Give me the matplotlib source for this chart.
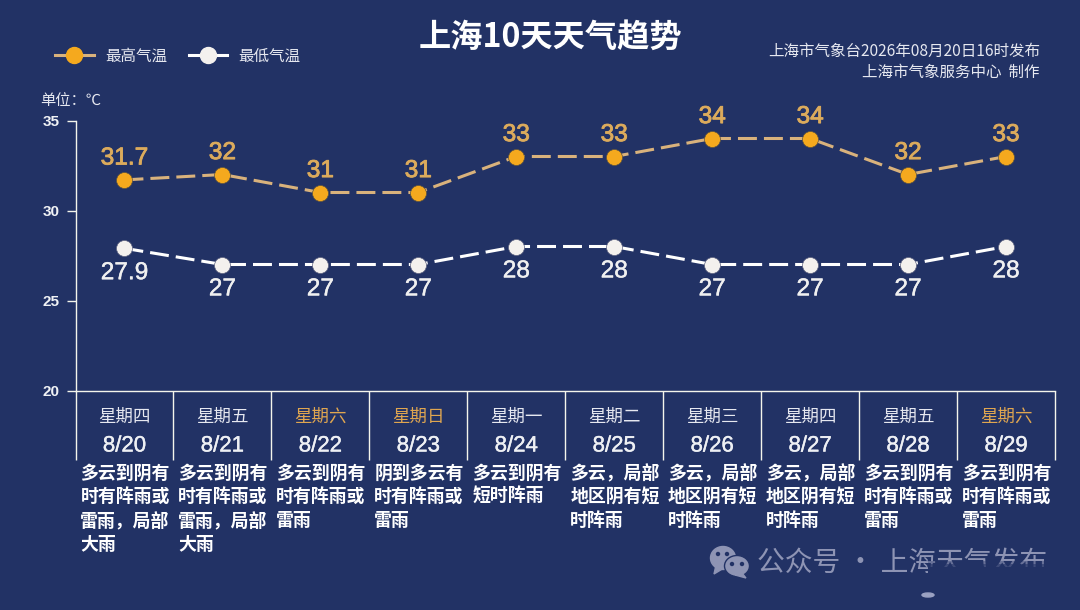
import matplotlib
matplotlib.use('Agg')
import matplotlib.pyplot as plt
import matplotlib.patheffects as pe
from matplotlib.lines import Line2D
from matplotlib.patches import Ellipse, Polygon, Rectangle

plt.rcParams['font.family'] = ['Noto Sans CJK SC', 'DejaVu Sans']

# data
weekdays = ['星期四', '星期五', '星期六', '星期日', '星期一', '星期二', '星期三', '星期四', '星期五', '星期六']
dates = ['8/20', '8/21', '8/22', '8/23', '8/24', '8/25', '8/26', '8/27', '8/28', '8/29']
high_temp = [31.7, 32, 31, 31, 33, 33, 34, 34, 32, 33]
low_temp = [27.9, 27, 27, 27, 28, 28, 27, 27, 27, 28]
high_labels = ['31.7', '32', '31', '31', '33', '33', '34', '34', '32', '33']
low_labels = ['27.9', '27', '27', '27', '28', '28', '27', '27', '27', '28']
weather = [
    '多云到阴有时有阵雨或雷雨，局部大雨',
    '多云到阴有时有阵雨或雷雨，局部大雨',
    '多云到阴有时有阵雨或雷雨',
    '阴到多云有时有阵雨或雷雨',
    '多云到阴有短时阵雨',
    '多云，局部地区阴有短时阵雨',
    '多云，局部地区阴有短时阵雨',
    '多云，局部地区阴有短时阵雨',
    '多云到阴有时有阵雨或雷雨',
    '多云到阴有时有阵雨或雷雨',
]
y_ticks = [20, 25, 30, 35]

BG = '#223265'
ORANGE = '#f5a91e'
TAN = '#d9b27c'
LABEL_ORANGE = '#dcab5c'
WEEKEND = '#e0a650'
WHITE = '#f4f1ee'
W, H = 1080, 610


def fx(px):
    return px / W


def fy(py):
    return 1 - py / H


fig = plt.figure(figsize=(W / 100, H / 100), dpi=100, facecolor=BG)
ax = fig.add_axes([fx(75.5), fy(390.5), (1055 - 75.5) / W, 270 / H], facecolor=BG)

xs = [i + 0.5 for i in range(len(dates))]
ax.plot(xs, high_temp, color=TAN, lw=2.2, dashes=(6.2, 2.3), dash_capstyle='butt', zorder=2)
ax.plot(xs, high_temp, ls='none', marker='o', ms=11.5, mfc=ORANGE, mec='#5d5340', mew=0.5, zorder=3)
ax.plot(xs, low_temp, color='white', lw=2.2, dashes=(6.2, 2.3), dash_capstyle='butt', zorder=2)
ax.plot(xs, low_temp, ls='none', marker='o', ms=11.5, mfc=WHITE, mec='#5d6280', mew=0.5, zorder=3)

ax.set_xlim(0, 10)
ax.set_ylim(20, 35)
ax.set_yticks(y_ticks)
ax.set_xticks(range(11))
ax.set_xticklabels([])
ax.tick_params(axis='x', length=49.7, width=1, color='#f4f5ec', direction='out')
ax.tick_params(axis='y', length=6.5, width=1, color='#f4f5ec', pad=5)
for lab in ax.get_yticklabels():
    lab.set_fontfamily(['Liberation Sans', 'DejaVu Sans'])
    lab.set_fontweight('bold')
    lab.set_fontsize(11)
    lab.set_color('#f0f2f5')
for side in ['top', 'right']:
    ax.spines[side].set_visible(False)
for side in ['left', 'bottom']:
    ax.spines[side].set_color('#f4f5ec')
    ax.spines[side].set_linewidth(1)

# value labels, regular weight with a thin stroke
num_font = ['Liberation Sans', 'DejaVu Sans']
for x, v, s in zip(xs, high_temp, high_labels):
    ax.annotate(s, (x, v), xytext=(0, 7.5), textcoords='offset points', ha='center', va='bottom',
                color=LABEL_ORANGE, fontsize=17.6, family=num_font,
                path_effects=[pe.withStroke(linewidth=0.6, foreground=LABEL_ORANGE)])
for x, v, s in zip(xs, low_temp, low_labels):
    ax.annotate(s, (x, v), xytext=(0, -10), textcoords='offset points', ha='center', va='top',
                color='#f0f0f0', fontsize=17.6, family=num_font,
                path_effects=[pe.withStroke(linewidth=0.3, foreground='#f0f0f0')])

# table under the axis
trans = ax.get_xaxis_transform()
for i, x in enumerate(xs):
    c = WEEKEND if weekdays[i] in ('星期六', '星期日') else '#e6e8f0'
    ax.text(x, -26 / 270, weekdays[i], transform=trans, ha='center', va='center', color=c, fontsize=12.6)
    ax.text(x, -55.5 / 270, dates[i], transform=trans, ha='center', va='center', color='#eef0f4',
            fontsize=16, family=num_font, path_effects=[pe.withStroke(linewidth=0.3, foreground='#eef0f4')])
    lines = [weather[i][k:k + 5] for k in range(0, len(weather[i]), 5)]
    for j, line in enumerate(lines):
        ax.text(i + 0.05, -(83 + j * 23.7) / 270, line, transform=trans, ha='left', va='center',
                color='white', fontsize=12.9, fontweight='bold')

# header
fig.text(fx(550), fy(37), '上海10天天气趋势', ha='center', va='center', color='white', fontsize=23.2, fontweight='bold')
fig.text(fx(1040), fy(51), '上海市气象台2026年08月20日16时发布', ha='right', va='center', color='#e6e8f0', fontsize=11.2)
fig.text(fx(1040), fy(72), '上海市气象服务中心  制作', ha='right', va='center', color='#e6e8f0', fontsize=11.2)
fig.text(fx(40), fy(101), '单位：℃', ha='left', va='center', color='#e6e8f0', fontsize=11)

handles = [
    Line2D([], [], color=TAN, lw=2.2, marker='o', ms=11.5, mfc=ORANGE, mec=ORANGE),
    Line2D([], [], color='white', lw=2.2, marker='o', ms=11.5, mfc=WHITE, mec=WHITE),
]
fig.legend(handles, ['最高气温', '最低气温'], ncol=2, frameon=False, loc='center left',
           bbox_to_anchor=(fx(55), fy(56)), borderpad=0, borderaxespad=0, handlelength=2.5,
           handletextpad=0.7, columnspacing=1.4, fontsize=11.2, labelcolor='#e6e8f0')

# watermark, its lower right part is smudged in the reference
MARK = '#8e94b4'
fig.text(fx(757), fy(563), '公众号 · 上海天气发布', ha='left', va='center', color=MARK, fontsize=20)
for top, alpha in [(561, 0.35), (564, 0.6), (567, 1)]:
    fig.patches.append(Rectangle((fx(928), fy(600)), 135 / W, (600 - top) / H, transform=fig.transFigure,
                                 facecolor=BG, edgecolor='none', alpha=alpha, zorder=5))
fig.patches.append(Ellipse((fx(928), fy(595)), 12 / W, 4 / H, transform=fig.transFigure, color='#9aa1c2', zorder=6))
fig.patches.append(Ellipse((fx(723), fy(558)), 25 / W, 23 / H, transform=fig.transFigure, color=MARK))
fig.patches.append(Polygon([(fx(716), fy(565)), (fx(714), fy(574)), (fx(724), fy(568))], transform=fig.transFigure, color=MARK))
fig.patches.append(Ellipse((fx(737), fy(566)), 25 / W, 21 / H, transform=fig.transFigure, facecolor=MARK, edgecolor=BG, lw=1))
fig.patches.append(Polygon([(fx(742), fy(573)), (fx(746), fy(578)), (fx(735), fy(575))], transform=fig.transFigure, color=MARK))
for px, py, r in [(718, 554, 3), (727, 554, 3), (732, 564, 3), (742, 564, 3)]:
    fig.patches.append(Ellipse((fx(px), fy(py)), r / W, r / H, transform=fig.transFigure, color=BG))

fig.savefig('out.png', dpi=100, facecolor=BG)
